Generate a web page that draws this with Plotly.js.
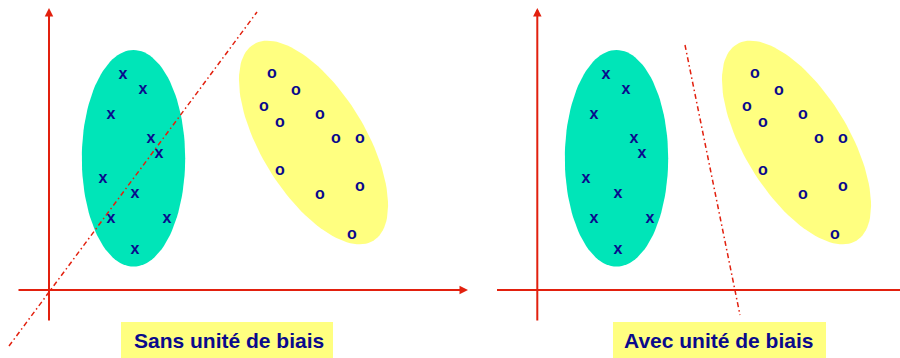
<!DOCTYPE html>
<html>
<head>
<meta charset="utf-8">
<script src="https://cdn.plot.ly/plotly-3.0.1.min.js"></script>
<style>html,body{margin:0;padding:0;background:#fff;}#chart{width:900px;height:358px;}</style>
</head>
<body>
<div id="chart"></div>
<script>
// ---- data (same point cloud in both panels, coordinates relative to the panel's frame) ----
const classX_x = [74, 94, 62, 102, 110, 54, 86, 62, 118, 86];
const classX_y = [215, 200, 175, 151, 136, 111, 96, 71, 71, 40];
const classO_x = [223, 247, 215, 231, 271, 287, 311, 231, 271, 311, 303];
const classO_y = [216, 199, 183, 167, 175, 151, 151, 119, 95, 103, 55];

// decision boundaries [x0, x1], [y0, y1]
const boundaryNoBias_x = [-40, 208];
const boundaryNoBias_y = [-56, 278];
const boundaryBias_x = [153, 208];
const boundaryBias_y = [245, -25];

const panelLabels = ["Sans unité de biais", "Avec unité de biais"];

// cluster envelopes: [cx, cy, semi-axis a, semi-axis b, angle in degrees]
const envelopeX = [84.5, 131.7, 51.7, 108.3, 0];
const envelopeO = [264.5, 147.5, 115, 52, -58.6];

// ---- styles ----
const RED = '#e2200e';
const NAVY = '#0a0a8c';
const GREEN = '#00e5b8';
const YELLOW = '#ffff80';
const FONT = 'Liberation Sans, Arial, sans-serif';

function ellipse(p) {
  const [cx, cy, a, b, deg] = p;
  const th = deg * Math.PI / 180;
  const xs = [], ys = [];
  for (let i = 0; i <= 120; i++) {
    const t = 2 * Math.PI * i / 120;
    const ex = a * Math.cos(t), ey = b * Math.sin(t);
    xs.push(cx + ex * Math.cos(th) - ey * Math.sin(th));
    ys.push(cy + ex * Math.sin(th) + ey * Math.cos(th));
  }
  return {x: xs, y: ys};
}

const traces = [];
const panels = [
  {xa: 'x', ya: 'y', bx: boundaryNoBias_x, by: boundaryNoBias_y},
  {xa: 'x2', ya: 'y2', bx: boundaryBias_x, by: boundaryBias_y}
];
panels.forEach(p => {
  const eX = ellipse(envelopeX), eO = ellipse(envelopeO);
  traces.push({x: eX.x, y: eX.y, xaxis: p.xa, yaxis: p.ya, mode: 'lines', fill: 'toself',
    fillcolor: GREEN, line: {width: 0, color: GREEN}, hoverinfo: 'skip'});
  traces.push({x: eO.x, y: eO.y, xaxis: p.xa, yaxis: p.ya, mode: 'lines', fill: 'toself',
    fillcolor: YELLOW, line: {width: 0, color: YELLOW}, hoverinfo: 'skip'});
  traces.push({x: p.bx, y: p.by, xaxis: p.xa, yaxis: p.ya, mode: 'lines',
    line: {color: RED, width: 1.5, dash: '5px,3px,1.5px,3px'}, hoverinfo: 'skip'});
  traces.push({x: classX_x, y: classX_y, xaxis: p.xa, yaxis: p.ya, mode: 'text',
    text: classX_x.map(() => '<b>x</b>'), textposition: 'middle center', cliponaxis: false,
    textfont: {family: FONT, size: 16, color: NAVY}});
  traces.push({x: classO_x, y: classO_y, xaxis: p.xa, yaxis: p.ya, mode: 'text',
    text: classO_x.map(() => '<b>o</b>'), textposition: 'middle center', cliponaxis: false,
    textfont: {family: FONT, size: 16, color: NAVY}});
});

const hidden = {visible: false, fixedrange: true};
const layout = {
  width: 900, height: 358,
  margin: {l: 0, r: 0, t: 0, b: 0},
  paper_bgcolor: '#ffffff', plot_bgcolor: 'rgba(0,0,0,0)',
  showlegend: false,
  xaxis: Object.assign({domain: [0, 0.53], range: [-49, 428]}, hidden),
  yaxis: Object.assign({domain: [0, 1], range: [-68, 290]}, hidden),
  xaxis2: Object.assign({domain: [0.5, 1], range: [-82, 368], anchor: 'y2'}, hidden),
  yaxis2: Object.assign({domain: [0, 1], range: [-68, 290], anchor: 'x2'}, hidden),
  shapes: [
    {type: 'line', xref: 'x2', yref: 'y2', x0: -35, x1: 368, y0: 0, y1: 0, line: {color: RED, width: 2}},
    {type: 'rect', xref: 'paper', yref: 'paper', x0: 121/900, x1: 333/900, y0: -0.01, y1: 1 - 322/358,
      fillcolor: YELLOW, line: {width: 0}},
    {type: 'rect', xref: 'paper', yref: 'paper', x0: 613/900, x1: 826/900, y0: -0.01, y1: 1 - 322/358,
      fillcolor: YELLOW, line: {width: 0}}
  ],
  annotations: [
    {xref: 'x', yref: 'y', axref: 'x', ayref: 'y', x: 0, y: 282, ax: 0, ay: -32, text: '',
      showarrow: true, arrowhead: 2, arrowsize: 0.85, arrowwidth: 2, arrowcolor: RED, standoff: 0, startstandoff: 0},
    {xref: 'x', yref: 'y', axref: 'x', ayref: 'y', x: 419, y: 0, ax: -32, ay: 0, text: '',
      showarrow: true, arrowhead: 2, arrowsize: 0.85, arrowwidth: 2, arrowcolor: RED, standoff: 0, startstandoff: 0},
    {xref: 'x2', yref: 'y2', axref: 'x2', ayref: 'y2', x: 5.3, y: 282, ax: 5.3, ay: -32, text: '',
      showarrow: true, arrowhead: 2, arrowsize: 0.85, arrowwidth: 2, arrowcolor: RED, standoff: 0, startstandoff: 0},
    {xref: 'paper', yref: 'paper', x: 229/900, y: 1 - 340.5/358, xanchor: 'center', yanchor: 'middle',
      text: '<b>' + panelLabels[0] + '</b>', showarrow: false,
      font: {family: FONT, size: 21, color: NAVY}},
    {xref: 'paper', yref: 'paper', x: 718.5/900, y: 1 - 340.5/358, xanchor: 'center', yanchor: 'middle',
      text: '<b>' + panelLabels[1] + '</b>', showarrow: false,
      font: {family: FONT, size: 21, color: NAVY}}
  ]
};

Plotly.newPlot('chart', traces, layout, {displayModeBar: false, staticPlot: true});
</script>
</body>
</html>
